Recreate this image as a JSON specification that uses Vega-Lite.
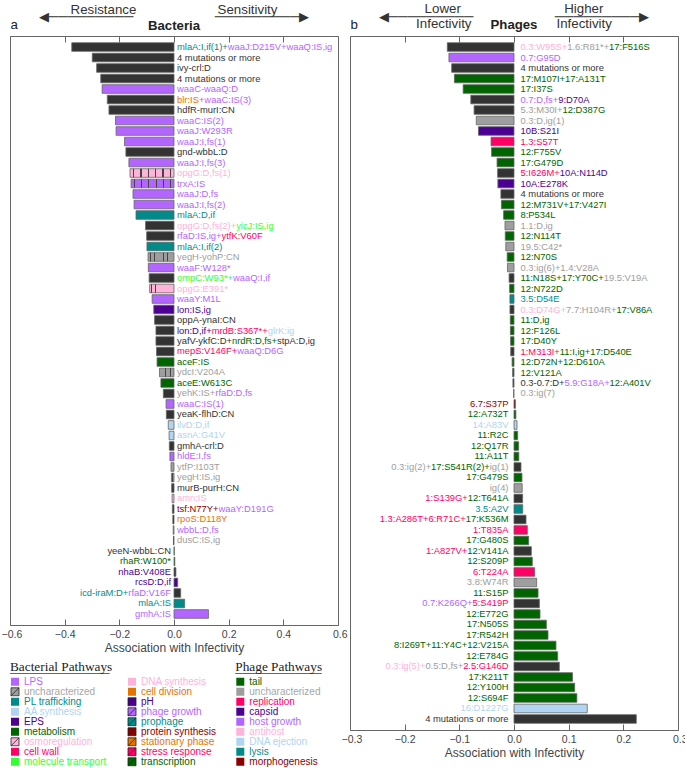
{
  "$schema": "https://vega.github.io/schema/vega-lite/v6.json",
  "background": "white",
  "padding": {"left": 0, "top": 1, "right": 0, "bottom": 0},
  "spacing": 12,
  "bounds": "flush",
  "resolve": {"scale": {"x": "independent", "y": "independent", "color": "independent"}, "legend": {"color": "independent"}},
  "config": {
    "font": "Liberation Sans",
    "view": {"stroke": "#666666", "strokeWidth": 1},
    "axis": {"grid": false},
    "legend": {"symbolSize": 64, "symbolStrokeWidth": 0.8, "labelFontSize": 10, "rowPadding": 0, "clipHeight": 10},
    "style": {"guide-label": {"fontSize": 10}}
  },
  "datasets": {
    "bact": [
      {"r":1,"v":-0.374,"bar":"multi","lab":"mlaA:I,if(1)+waaJ:D215V+waaQ:IS,ig","c":"LPS","o1":"mlaA:I,if(1)+","k1":"PL trafficking"},
      {"r":2,"v":-0.299,"bar":"multi","lab":"4 mutations or more","c":"multi"},
      {"r":3,"v":-0.283,"bar":"multi","lab":"ivy-crl:D","c":"multi"},
      {"r":4,"v":-0.268,"bar":"multi","lab":"4 mutations or more","c":"multi"},
      {"r":5,"v":-0.263,"bar":"LPS","lab":"waaC-waaQ:D","c":"LPS"},
      {"r":6,"v":-0.244,"bar":"multi","lab":"blr:IS+waaC:IS(3)","c":"LPS","o1":"blr:IS+","k1":"cell division"},
      {"r":7,"v":-0.238,"bar":"multi","lab":"hdfR-murI:CN","c":"multi"},
      {"r":8,"v":-0.214,"bar":"LPS","lab":"waaC:IS(2)","c":"LPS"},
      {"r":9,"v":-0.212,"bar":"LPS","lab":"waaJ:W293R","c":"LPS"},
      {"r":10,"v":-0.181,"bar":"LPS","lab":"waaJ:I,fs(1)","c":"LPS"},
      {"r":11,"v":-0.176,"bar":"multi","lab":"gnd-wbbL:D","c":"multi"},
      {"r":12,"v":-0.165,"bar":"LPS","lab":"waaJ:I,fs(3)","c":"LPS"},
      {"r":13,"v":-0.161,"bar":"osmoregulation","lab":"opgG:D,fs(1)","c":"osmoregulation"},
      {"r":14,"v":-0.157,"bar":"phage growth","lab":"trxA:IS","c":"phage growth"},
      {"r":15,"v":-0.150,"bar":"LPS","lab":"waaJ:D,fs","c":"LPS"},
      {"r":16,"v":-0.146,"bar":"LPS","lab":"waaJ:I,fs(2)","c":"LPS"},
      {"r":17,"v":-0.139,"bar":"PL trafficking","lab":"mlaA:D,if","c":"PL trafficking"},
      {"r":18,"v":-0.104,"bar":"multi","lab":"opgG:D,fs(2)+yicJ:IS,ig","c":"molecule transport","o1":"opgG:D,fs(2)+","k1":"osmoregulation"},
      {"r":19,"v":-0.100,"bar":"multi","lab":"rfaD:IS,ig+ytfK:V60F","c":"stress response","o1":"rfaD:IS,ig+","k1":"LPS"},
      {"r":20,"v":-0.099,"bar":"PL trafficking","lab":"mlaA:I,if(2)","c":"PL trafficking"},
      {"r":21,"v":-0.095,"bar":"uncharacterized","lab":"yegH-yohP:CN","c":"uncharacterized"},
      {"r":22,"v":-0.094,"bar":"LPS","lab":"waaF:W128*","c":"LPS"},
      {"r":23,"v":-0.091,"bar":"multi","lab":"ompC:W93*+waaQ:I,if","c":"LPS","o1":"ompC:W93*+","k1":"molecule transport"},
      {"r":24,"v":-0.089,"bar":"osmoregulation","lab":"opgG:E391*","c":"osmoregulation"},
      {"r":25,"v":-0.080,"bar":"LPS","lab":"waaY:M1L","c":"LPS"},
      {"r":26,"v":-0.074,"bar":"EPS","lab":"lon:IS,ig","c":"EPS"},
      {"r":27,"v":-0.071,"bar":"multi","lab":"oppA-ynaI:CN","c":"multi"},
      {"r":28,"v":-0.066,"bar":"multi","lab":"lon:D,if+mrdB:S367*+glrK:ig","c":"AA synthesis","o1":"lon:D,if+mrdB:S367*+","k1":"cell wall","o2":"lon:D,if+","k2":"EPS"},
      {"r":29,"v":-0.066,"bar":"multi","lab":"yafV-ykfC:D+nrdR:D,fs+stpA:D,ig","c":"multi","o1":"yafV-ykfC:D+nrdR:D,fs+","k1":"transcription","o2":"yafV-ykfC:D+","k2":"multi"},
      {"r":30,"v":-0.064,"bar":"multi","lab":"mepS:V146F+waaQ:D6G","c":"LPS","o1":"mepS:V146F+","k1":"cell wall"},
      {"r":31,"v":-0.062,"bar":"metabolism","lab":"aceF:IS","c":"metabolism"},
      {"r":32,"v":-0.053,"bar":"uncharacterized","lab":"ydcI:V204A","c":"uncharacterized"},
      {"r":33,"v":-0.048,"bar":"metabolism","lab":"aceE:W613C","c":"metabolism"},
      {"r":34,"v":-0.039,"bar":"multi","lab":"yehK:IS+rfaD:D,fs","c":"LPS","o1":"yehK:IS+","k1":"uncharacterized"},
      {"r":35,"v":-0.029,"bar":"LPS","lab":"waaC:IS(1)","c":"LPS"},
      {"r":36,"v":-0.028,"bar":"multi","lab":"yeaK-flhD:CN","c":"multi"},
      {"r":37,"v":-0.021,"bar":"AA synthesis","lab":"ilvD:D,if","c":"AA synthesis"},
      {"r":38,"v":-0.018,"bar":"AA synthesis","lab":"asnA:G41V","c":"AA synthesis"},
      {"r":39,"v":-0.017,"bar":"multi","lab":"gmhA-crl:D","c":"multi"},
      {"r":40,"v":-0.015,"bar":"LPS","lab":"hldE:I,fs","c":"LPS"},
      {"r":41,"v":-0.011,"bar":"uncharacterized","lab":"ytfP:I103T","c":"uncharacterized"},
      {"r":42,"v":-0.0095,"bar":"uncharacterized","lab":"yegH:IS,ig","c":"uncharacterized"},
      {"r":43,"v":-0.0085,"bar":"multi","lab":"murB-purH:CN","c":"multi"},
      {"r":44,"v":-0.007,"bar":"DNA synthesis","lab":"amn:IS","c":"DNA synthesis"},
      {"r":45,"v":-0.006,"bar":"multi","lab":"tsf:N77Y+waaY:D191G","c":"LPS","o1":"tsf:N77Y+","k1":"protein synthesis"},
      {"r":46,"v":-0.0045,"bar":"stationary phase","lab":"rpoS:D118Y","c":"stationary phase"},
      {"r":47,"v":-0.003,"bar":"LPS","lab":"wbbL:D,fs","c":"LPS"},
      {"r":48,"v":-0.002,"bar":"uncharacterized","lab":"dusC:IS,ig","c":"uncharacterized"},
      {"r":49,"v":0.001,"bar":"multi","lab":"yeeN-wbbL:CN","c":"multi"},
      {"r":50,"v":0.003,"bar":"transcription","lab":"rhaR:W100*","c":"transcription"},
      {"r":51,"v":0.007,"bar":"pH","lab":"nhaB:V408E","c":"pH"},
      {"r":52,"v":0.0135,"bar":"EPS","lab":"rcsD:D,if","c":"EPS"},
      {"r":53,"v":0.0245,"bar":"multi","lab":"icd-iraM:D+rfaD:V16F","c":"prophage","o1":"rfaD:V16F","k1":"LPS"},
      {"r":54,"v":0.039,"bar":"PL trafficking","lab":"mlaA:IS","c":"PL trafficking"},
      {"r":55,"v":0.126,"bar":"LPS","lab":"gmhA:IS","c":"LPS"}
    ],
    "phage": [
      {"r":1,"v":-0.122,"bar":"multi","lab":"0.3:W95S+1.6:R81*+17:F516S","c":"tail","o1":"0.3:W95S+1.6:R81*+","k1":"uncharacterized","o2":"0.3:W95S+","k2":"antihost"},
      {"r":2,"v":-0.119,"bar":"host growth","lab":"0.7:G95D","c":"host growth"},
      {"r":3,"v":-0.114,"bar":"multi","lab":"4 mutations or more","c":"multi"},
      {"r":4,"v":-0.109,"bar":"tail","lab":"17:M107I+17:A131T","c":"tail"},
      {"r":5,"v":-0.093,"bar":"tail","lab":"17:I37S","c":"tail"},
      {"r":6,"v":-0.079,"bar":"multi","lab":"0.7:D,fs+9:D70A","c":"capsid","o1":"0.7:D,fs+","k1":"host growth"},
      {"r":7,"v":-0.073,"bar":"multi","lab":"5.3:M30I+12:D387G","c":"tail","o1":"5.3:M30I+","k1":"uncharacterized"},
      {"r":8,"v":-0.069,"bar":"uncharacterized","lab":"0.3:D,ig(1)","c":"uncharacterized"},
      {"r":9,"v":-0.065,"bar":"capsid","lab":"10B:S21I","c":"capsid"},
      {"r":10,"v":-0.042,"bar":"replication","lab":"1.3:S57T","c":"replication"},
      {"r":11,"v":-0.041,"bar":"tail","lab":"12:F755V","c":"tail"},
      {"r":12,"v":-0.031,"bar":"tail","lab":"17:G479D","c":"tail"},
      {"r":13,"v":-0.030,"bar":"multi","lab":"5:I626M+10A:N114D","c":"capsid","o1":"5:I626M+","k1":"replication"},
      {"r":14,"v":-0.0295,"bar":"capsid","lab":"10A:E278K","c":"capsid"},
      {"r":15,"v":-0.024,"bar":"multi","lab":"4 mutations or more","c":"multi"},
      {"r":16,"v":-0.023,"bar":"tail","lab":"12:M731V+17:V427I","c":"tail"},
      {"r":17,"v":-0.019,"bar":"tail","lab":"8:P534L","c":"tail"},
      {"r":18,"v":-0.0165,"bar":"uncharacterized","lab":"1.1:D,ig","c":"uncharacterized"},
      {"r":19,"v":-0.016,"bar":"tail","lab":"12:N114T","c":"tail"},
      {"r":20,"v":-0.015,"bar":"uncharacterized","lab":"19.5:C42*","c":"uncharacterized"},
      {"r":21,"v":-0.0125,"bar":"tail","lab":"12:N70S","c":"tail"},
      {"r":22,"v":-0.012,"bar":"uncharacterized","lab":"0.3:ig(6)+1.4:V28A","c":"uncharacterized"},
      {"r":23,"v":-0.009,"bar":"multi","lab":"11:N18S+17:Y70C+19.5:V19A","c":"uncharacterized","o1":"11:N18S+17:Y70C+","k1":"tail"},
      {"r":24,"v":-0.008,"bar":"tail","lab":"12:N722D","c":"tail"},
      {"r":25,"v":-0.0075,"bar":"lysis","lab":"3.5:D54E","c":"lysis"},
      {"r":26,"v":-0.0074,"bar":"multi","lab":"0.3:D74G+7.7:H104R+17:V86A","c":"tail","o1":"0.3:D74G+7.7:H104R+","k1":"uncharacterized","o2":"0.3:D74G+","k2":"antihost"},
      {"r":27,"v":-0.0068,"bar":"tail","lab":"11:D,ig","c":"tail"},
      {"r":28,"v":-0.0066,"bar":"tail","lab":"12:F126L","c":"tail"},
      {"r":29,"v":-0.0062,"bar":"tail","lab":"17:D40Y","c":"tail"},
      {"r":30,"v":-0.006,"bar":"multi","lab":"1:M313I+11:I,ig+17:D540E","c":"tail","o1":"1:M313I+","k1":"replication"},
      {"r":31,"v":-0.0035,"bar":"tail","lab":"12:D72N+12:D610A","c":"tail"},
      {"r":32,"v":-0.0025,"bar":"tail","lab":"12:V121A","c":"tail"},
      {"r":33,"v":-0.002,"bar":"multi","lab":"0.3-0.7:D+5.9:G18A+12:A401V","c":"tail","o1":"0.3-0.7:D+5.9:G18A+","k1":"host growth","o2":"0.3-0.7:D+","k2":"multi"},
      {"r":34,"v":-0.0008,"bar":"uncharacterized","lab":"0.3:ig(7)","c":"uncharacterized"},
      {"r":35,"v":0.0025,"bar":"morphogenesis","lab":"6.7:S37P","c":"morphogenesis"},
      {"r":36,"v":0.0035,"bar":"tail","lab":"12:A732T","c":"tail"},
      {"r":37,"v":0.0055,"bar":"DNA ejection","lab":"14:A83V","c":"DNA ejection"},
      {"r":38,"v":0.0067,"bar":"tail","lab":"11:R2C","c":"tail"},
      {"r":39,"v":0.0085,"bar":"tail","lab":"12:Q17R","c":"tail"},
      {"r":40,"v":0.0088,"bar":"tail","lab":"11:A11T","c":"tail"},
      {"r":41,"v":0.0128,"bar":"multi","lab":"0.3:ig(2)+17:S541R(2)+ig(1)","c":"uncharacterized","o1":"17:S541R(2)+ig(1)","k1":"tail","o2":"ig(1)","k2":"uncharacterized"},
      {"r":42,"v":0.0146,"bar":"tail","lab":"17:G479S","c":"tail"},
      {"r":43,"v":0.015,"bar":"uncharacterized","lab":"ig(4)","c":"uncharacterized"},
      {"r":44,"v":0.0158,"bar":"multi","lab":"1:S139G+12:T641A","c":"replication","o1":"12:T641A","k1":"tail"},
      {"r":45,"v":0.016,"bar":"lysis","lab":"3.5:A2V","c":"lysis"},
      {"r":46,"v":0.022,"bar":"multi","lab":"1.3:A286T+6:R71C+17:K536M","c":"replication","o1":"17:K536M","k1":"tail"},
      {"r":47,"v":0.0244,"bar":"replication","lab":"1:T835A","c":"replication"},
      {"r":48,"v":0.0268,"bar":"tail","lab":"17:G480S","c":"tail"},
      {"r":49,"v":0.0317,"bar":"multi","lab":"1:A827V+12:V141A","c":"replication","o1":"12:V141A","k1":"tail"},
      {"r":50,"v":0.0335,"bar":"tail","lab":"12:S209P","c":"tail"},
      {"r":51,"v":0.0378,"bar":"replication","lab":"6:T224A","c":"replication"},
      {"r":52,"v":0.0415,"bar":"uncharacterized","lab":"3.8:W74R","c":"uncharacterized"},
      {"r":53,"v":0.044,"bar":"tail","lab":"11:S15P","c":"tail"},
      {"r":54,"v":0.0464,"bar":"multi","lab":"0.7:K266Q+5:S419P","c":"host growth","o1":"5:S419P","k1":"replication"},
      {"r":55,"v":0.0476,"bar":"tail","lab":"12:E772G","c":"tail"},
      {"r":56,"v":0.0592,"bar":"tail","lab":"17:N505S","c":"tail"},
      {"r":57,"v":0.0622,"bar":"tail","lab":"17:R542H","c":"tail"},
      {"r":58,"v":0.0768,"bar":"tail","lab":"8:I269T+11:Y4C+12:V215A","c":"tail"},
      {"r":59,"v":0.0799,"bar":"tail","lab":"12:E784G","c":"tail"},
      {"r":60,"v":0.0829,"bar":"multi","lab":"0.3:ig(5)+0.5:D,fs+2.5:G146D","c":"antihost","o1":"0.5:D,fs+2.5:G146D","k1":"uncharacterized","o2":"2.5:G146D","k2":"replication"},
      {"r":61,"v":0.107,"bar":"tail","lab":"17:K211T","c":"tail"},
      {"r":62,"v":0.111,"bar":"tail","lab":"12:Y100H","c":"tail"},
      {"r":63,"v":0.115,"bar":"tail","lab":"12:S694F","c":"tail"},
      {"r":64,"v":0.134,"bar":"DNA ejection","lab":"16:D1227G","c":"DNA ejection"},
      {"r":65,"v":0.2237,"bar":"multi","lab":"4 mutations or more","c":"multi"}
    ]
  },
  "hconcat": [
    {
      "width": 328,
      "height": 589,
      "data": {"name": "bact"},
      "title": {
        "text": ["Resistance\u00a0\u00a0\u00a0\u00a0\u00a0\u00a0\u00a0\u00a0\u00a0\u00a0\u00a0\u00a0\u00a0\u00a0\u00a0\u00a0\u00a0\u00a0\u00a0\u00a0\u00a0\u00a0Sensitivity", "◀─────────\u00a0\u00a0\u00a0\u00a0\u00a0\u00a0\u00a0\u00a0\u00a0\u00a0\u00a0\u00a0\u00a0\u00a0\u00a0\u00a0\u00a0\u00a0\u00a0\u00a0\u00a0\u00a0─────────▶"],
        "subtitle": "Bacteria",
        "frame": "group",
        "anchor": "middle",
        "font": "Liberation Sans",
        "fontSize": 13.3,
        "fontWeight": "normal",
        "color": "#333333",
        "lineHeight": 6.5,
        "subtitleFont": "Liberation Sans",
        "subtitleFontSize": 13.2,
        "subtitleFontWeight": "bold",
        "subtitleColor": "#222222",
        "subtitlePadding": -2.7,
        "offset": -15.3
      },
      "encoding": {
        "y": {"field": "r", "type": "ordinal", "axis": null, "scale": {"paddingInner": 0.18, "paddingOuter": 0.64}}
      },
      "layer": [
        {
          "mark": {"type": "bar", "stroke": "#666666", "strokeWidth": 0.8},
          "encoding": {
            "x": {"field": "v", "type": "quantitative", "scale": {"domain": [-0.6, 0.6], "nice": false},
              "axis": {"orient": "bottom", "values": [-0.6, -0.4, -0.2, 0, 0.2, 0.4, 0.6], "format": ".1f", "domain": false, "tickSize": -6, "tickColor": "#666666", "labelFontSize": 10.5, "labelColor": "#444444", "labelPadding": 10.5, "labelFlush": true, "labelFlushOffset": 9, "title": "Association with Infectivity", "titleFontSize": 12, "titleFontWeight": "normal", "titleColor": "#444444", "titlePadding": 2}},
            "color": {"field": "bar", "type": "nominal",
              "scale": {"domain":["multi","LPS","uncharacterized","PL trafficking","AA synthesis","EPS","metabolism","osmoregulation","cell wall","molecule transport","DNA synthesis","cell division","pH","phage growth","prophage","protein synthesis","stationary phase","stress response","transcription","tail","replication","capsid","host growth","antihost","DNA ejection","lysis","morphogenesis"],"range":["#333333","#b366ff","#9e9e9e","#008b8b","#b0d4f1","#4b0092","#006400","#ffb3d9","#ff0066","#33ff33","#ffb3d9","#e67300","#4b0092","#b366ff","#008b8b","#8b0000","#e67300","#ff0066","#006400","#006400","#ff0066","#4b0092","#b366ff","#ffb3d9","#b0d4f1","#008b8b","#8b0000"]},
              "legend": {
                "title": ["Bacterial Pathways", "_______________"],
                "orient": "none", "legendX": 0, "legendY": 623.5, "direction": "vertical", "columns": 2,
                "values": ["LPS","uncharacterized","PL trafficking","AA synthesis","EPS","metabolism","osmoregulation","cell wall","molecule transport","DNA synthesis","cell division","pH","phage growth","prophage","protein synthesis","stationary phase","stress response","transcription"],
                "symbolType": {"expr": "indexof(['uncharacterized','osmoregulation','pH','phage growth','prophage','protein synthesis','stationary phase','stress response','transcription'],datum.value)>=0?'M-1,-1H1V1H-1ZM-1,1L1,-1':'square'"},
                "symbolStrokeColor": {"expr": "indexof(['uncharacterized','osmoregulation','pH','phage growth','prophage','protein synthesis','stationary phase','stress response','transcription'],datum.value)>=0?'#222222':'transparent'"},
                "symbolStrokeWidth": 0.8, "symbolSize": 64, "symbolOpacity": 1,
                "labelFont": "Liberation Sans", "labelFontSize": 10, "labelOffset": 4,
                "labelColor": {"expr": "indexof(['LPS','phage growth','host growth'],datum.value)>=0?'#b366ff':datum.value=='uncharacterized'?'#a6a6a6':indexof(['PL trafficking','prophage','lysis'],datum.value)>=0?'#008b8b':indexof(['AA synthesis','DNA ejection'],datum.value)>=0?'#b0d4f1':indexof(['EPS','pH','capsid'],datum.value)>=0?'#4b0092':indexof(['metabolism','transcription','tail'],datum.value)>=0?'#006400':indexof(['osmoregulation','DNA synthesis','antihost'],datum.value)>=0?'#ffb3d9':indexof(['cell wall','stress response','replication'],datum.value)>=0?'#ff0066':datum.value=='molecule transport'?'#33ff33':indexof(['cell division','stationary phase'],datum.value)>=0?'#e67300':'#8b0000'"},
                "titleFont": "Liberation Serif", "titleFontSize": 13.3, "titleFontWeight": "normal", "titleColor": "#222222", "titleLineHeight": 1, "titlePadding": 3,
                "clipHeight": 10, "rowPadding": 0, "columnPadding": 20, "padding": 0
              }}
          }
        },
        {
          "transform": [{"filter": "indexof(['osmoregulation','uncharacterized','phage growth','stationary phase','transcription','pH','prophage','protein synthesis','stress response'], datum.bar) >= 0"}],
          "mark": {"type": "bar", "stroke": null, "fill": {"gradient": "linear", "x1": 0, "y1": 0, "x2": 1, "y2": 0, "stops": [
            {"offset": 0, "color": "rgba(50,50,50,0)"},
            {"offset": 0.07, "color": "rgba(50,50,50,0)"}, {"offset": 0.07, "color": "#444444"}, {"offset": 0.095, "color": "#444444"}, {"offset": 0.095, "color": "rgba(50,50,50,0)"},
            {"offset": 0.237, "color": "rgba(50,50,50,0)"}, {"offset": 0.237, "color": "#444444"}, {"offset": 0.262, "color": "#444444"}, {"offset": 0.262, "color": "rgba(50,50,50,0)"},
            {"offset": 0.404, "color": "rgba(50,50,50,0)"}, {"offset": 0.404, "color": "#444444"}, {"offset": 0.429, "color": "#444444"}, {"offset": 0.429, "color": "rgba(50,50,50,0)"},
            {"offset": 0.571, "color": "rgba(50,50,50,0)"}, {"offset": 0.571, "color": "#444444"}, {"offset": 0.596, "color": "#444444"}, {"offset": 0.596, "color": "rgba(50,50,50,0)"},
            {"offset": 0.738, "color": "rgba(50,50,50,0)"}, {"offset": 0.738, "color": "#444444"}, {"offset": 0.763, "color": "#444444"}, {"offset": 0.763, "color": "rgba(50,50,50,0)"},
            {"offset": 0.904, "color": "rgba(50,50,50,0)"}, {"offset": 0.904, "color": "#444444"}, {"offset": 0.929, "color": "#444444"}, {"offset": 0.929, "color": "rgba(50,50,50,0)"},
            {"offset": 1, "color": "rgba(50,50,50,0)"}]}},
          "encoding": {
            "x": {"field": "v", "type": "quantitative", "scale": {"domain": [-0.6, 0.6], "nice": false}, "axis": null}
          }
        },
        {
          "mark": {"type": "rule", "color": "#333333", "strokeWidth": 1},
          "encoding": {
            "x": {"datum": 0, "type": "quantitative", "scale": {"domain": [-0.6, 0.6], "nice": false},
              "axis": {"orient": "top", "values": [-0.6, -0.4, -0.2, 0, 0.2, 0.4, 0.6], "labels": false, "domain": false, "tickSize": -6, "tickColor": "#666666", "title": "a", "titleAnchor": "start", "titleFontSize": 13.3, "titleFontWeight": "normal", "titleColor": "#222222", "titlePadding": 4.2}}
          }
        },
        {
          "transform": [{"filter": "datum.v < 0"}],
          "mark": {"type": "text", "align": "left", "baseline": "middle", "dx": 3, "fontSize": 9.4, "font": "Liberation Sans"},
          "encoding": {
            "x": {"datum": 0, "type": "quantitative", "scale": {"domain": [-0.6, 0.6], "nice": false}, "axis": null},
            "text": {"field": "lab"},
            "color": {"field": "c", "type": "nominal", "legend": null, "scale": {"domain":["multi","LPS","uncharacterized","PL trafficking","AA synthesis","EPS","metabolism","osmoregulation","cell wall","molecule transport","DNA synthesis","cell division","pH","phage growth","prophage","protein synthesis","stationary phase","stress response","transcription","tail","replication","capsid","host growth","antihost","DNA ejection","lysis","morphogenesis"],"range":["#333333","#b366ff","#9e9e9e","#008b8b","#b0d4f1","#4b0092","#006400","#ffb3d9","#ff0066","#33ff33","#ffb3d9","#e67300","#4b0092","#b366ff","#008b8b","#8b0000","#e67300","#ff0066","#006400","#006400","#ff0066","#4b0092","#b366ff","#ffb3d9","#b0d4f1","#008b8b","#8b0000"]}}
          }
        },
        {
          "transform": [{"filter": "datum.v < 0 && isValid(datum.o1)"}],
          "mark": {"type": "text", "align": "left", "baseline": "middle", "dx": 3, "fontSize": 9.4, "font": "Liberation Sans", "fill": "white", "stroke": "white", "strokeWidth": 1.3},
          "encoding": {
            "x": {"datum": 0, "type": "quantitative", "scale": {"domain": [-0.6, 0.6], "nice": false}, "axis": null},
            "text": {"field": "o1"}
          }
        },
        {
          "transform": [{"filter": "datum.v < 0 && isValid(datum.o1)"}],
          "mark": {"type": "text", "align": "left", "baseline": "middle", "dx": 3, "fontSize": 9.4, "font": "Liberation Sans"},
          "encoding": {
            "x": {"datum": 0, "type": "quantitative", "scale": {"domain": [-0.6, 0.6], "nice": false}, "axis": null},
            "text": {"field": "o1"},
            "color": {"field": "k1", "type": "nominal", "legend": null, "scale": {"domain":["multi","LPS","uncharacterized","PL trafficking","AA synthesis","EPS","metabolism","osmoregulation","cell wall","molecule transport","DNA synthesis","cell division","pH","phage growth","prophage","protein synthesis","stationary phase","stress response","transcription","tail","replication","capsid","host growth","antihost","DNA ejection","lysis","morphogenesis"],"range":["#333333","#b366ff","#9e9e9e","#008b8b","#b0d4f1","#4b0092","#006400","#ffb3d9","#ff0066","#33ff33","#ffb3d9","#e67300","#4b0092","#b366ff","#008b8b","#8b0000","#e67300","#ff0066","#006400","#006400","#ff0066","#4b0092","#b366ff","#ffb3d9","#b0d4f1","#008b8b","#8b0000"]}}
          }
        },
        {
          "transform": [{"filter": "datum.v < 0 && isValid(datum.o2)"}],
          "mark": {"type": "text", "align": "left", "baseline": "middle", "dx": 3, "fontSize": 9.4, "font": "Liberation Sans", "fill": "white", "stroke": "white", "strokeWidth": 1.3},
          "encoding": {
            "x": {"datum": 0, "type": "quantitative", "scale": {"domain": [-0.6, 0.6], "nice": false}, "axis": null},
            "text": {"field": "o2"}
          }
        },
        {
          "transform": [{"filter": "datum.v < 0 && isValid(datum.o2)"}],
          "mark": {"type": "text", "align": "left", "baseline": "middle", "dx": 3, "fontSize": 9.4, "font": "Liberation Sans"},
          "encoding": {
            "x": {"datum": 0, "type": "quantitative", "scale": {"domain": [-0.6, 0.6], "nice": false}, "axis": null},
            "text": {"field": "o2"},
            "color": {"field": "k2", "type": "nominal", "legend": null, "scale": {"domain":["multi","LPS","uncharacterized","PL trafficking","AA synthesis","EPS","metabolism","osmoregulation","cell wall","molecule transport","DNA synthesis","cell division","pH","phage growth","prophage","protein synthesis","stationary phase","stress response","transcription","tail","replication","capsid","host growth","antihost","DNA ejection","lysis","morphogenesis"],"range":["#333333","#b366ff","#9e9e9e","#008b8b","#b0d4f1","#4b0092","#006400","#ffb3d9","#ff0066","#33ff33","#ffb3d9","#e67300","#4b0092","#b366ff","#008b8b","#8b0000","#e67300","#ff0066","#006400","#006400","#ff0066","#4b0092","#b366ff","#ffb3d9","#b0d4f1","#008b8b","#8b0000"]}}
          }
        },
        {
          "transform": [{"filter": "datum.v > 0"}],
          "mark": {"type": "text", "align": "right", "baseline": "middle", "dx": -3, "fontSize": 9.4, "font": "Liberation Sans"},
          "encoding": {
            "x": {"datum": 0, "type": "quantitative", "scale": {"domain": [-0.6, 0.6], "nice": false}, "axis": null},
            "text": {"field": "lab"},
            "color": {"field": "c", "type": "nominal", "legend": null, "scale": {"domain":["multi","LPS","uncharacterized","PL trafficking","AA synthesis","EPS","metabolism","osmoregulation","cell wall","molecule transport","DNA synthesis","cell division","pH","phage growth","prophage","protein synthesis","stationary phase","stress response","transcription","tail","replication","capsid","host growth","antihost","DNA ejection","lysis","morphogenesis"],"range":["#333333","#b366ff","#9e9e9e","#008b8b","#b0d4f1","#4b0092","#006400","#ffb3d9","#ff0066","#33ff33","#ffb3d9","#e67300","#4b0092","#b366ff","#008b8b","#8b0000","#e67300","#ff0066","#006400","#006400","#ff0066","#4b0092","#b366ff","#ffb3d9","#b0d4f1","#008b8b","#8b0000"]}}
          }
        },
        {
          "transform": [{"filter": "datum.v > 0 && isValid(datum.o1)"}],
          "mark": {"type": "text", "align": "right", "baseline": "middle", "dx": -3, "fontSize": 9.4, "font": "Liberation Sans", "fill": "white", "stroke": "white", "strokeWidth": 1.3},
          "encoding": {
            "x": {"datum": 0, "type": "quantitative", "scale": {"domain": [-0.6, 0.6], "nice": false}, "axis": null},
            "text": {"field": "o1"}
          }
        },
        {
          "transform": [{"filter": "datum.v > 0 && isValid(datum.o1)"}],
          "mark": {"type": "text", "align": "right", "baseline": "middle", "dx": -3, "fontSize": 9.4, "font": "Liberation Sans"},
          "encoding": {
            "x": {"datum": 0, "type": "quantitative", "scale": {"domain": [-0.6, 0.6], "nice": false}, "axis": null},
            "text": {"field": "o1"},
            "color": {"field": "k1", "type": "nominal", "legend": null, "scale": {"domain":["multi","LPS","uncharacterized","PL trafficking","AA synthesis","EPS","metabolism","osmoregulation","cell wall","molecule transport","DNA synthesis","cell division","pH","phage growth","prophage","protein synthesis","stationary phase","stress response","transcription","tail","replication","capsid","host growth","antihost","DNA ejection","lysis","morphogenesis"],"range":["#333333","#b366ff","#9e9e9e","#008b8b","#b0d4f1","#4b0092","#006400","#ffb3d9","#ff0066","#33ff33","#ffb3d9","#e67300","#4b0092","#b366ff","#008b8b","#8b0000","#e67300","#ff0066","#006400","#006400","#ff0066","#4b0092","#b366ff","#ffb3d9","#b0d4f1","#008b8b","#8b0000"]}}
          }
        }
      ],
      "resolve": {"axis": {"x": "independent"}}
    },
    {
      "width": 328,
      "height": 694,
      "data": {"name": "phage"},
      "title": {
        "text": ["Lower\u00a0\u00a0\u00a0\u00a0\u00a0\u00a0\u00a0\u00a0\u00a0\u00a0\u00a0\u00a0\u00a0\u00a0\u00a0\u00a0\u00a0\u00a0\u00a0\u00a0\u00a0\u00a0\u00a0\u00a0\u00a0\u00a0\u00a0\u00a0Higher", "◀─────────\u00a0\u00a0\u00a0\u00a0\u00a0\u00a0\u00a0\u00a0\u00a0\u00a0\u00a0\u00a0\u00a0\u00a0\u00a0\u00a0\u00a0\u00a0\u00a0\u00a0\u00a0\u00a0─────────▶", "Infectivity\u00a0\u00a0\u00a0\u00a0\u00a0\u00a0\u00a0\u00a0\u00a0\u00a0\u00a0\u00a0\u00a0\u00a0\u00a0\u00a0\u00a0\u00a0\u00a0\u00a0\u00a0\u00a0\u00a0Infectivity"],
        "subtitle": "Phages",
        "frame": "group",
        "anchor": "middle",
        "font": "Liberation Sans",
        "fontSize": 13.3,
        "fontWeight": "normal",
        "color": "#333333",
        "lineHeight": 7.5,
        "subtitleFont": "Liberation Sans",
        "subtitleFontSize": 13.2,
        "subtitleFontWeight": "bold",
        "subtitleColor": "#222222",
        "subtitlePadding": -11.7,
        "offset": -13.8
      },
      "encoding": {
        "y": {"field": "r", "type": "ordinal", "axis": null, "scale": {"paddingInner": 0.18, "paddingOuter": 0.64}}
      },
      "layer": [
        {
          "mark": {"type": "bar", "stroke": "#666666", "strokeWidth": 0.8},
          "encoding": {
            "x": {"field": "v", "type": "quantitative", "scale": {"domain": [-0.3, 0.3], "nice": false},
              "axis": {"orient": "bottom", "values": [-0.3, -0.2, -0.1, 0, 0.1, 0.2, 0.3], "format": ".1f", "domain": false, "tickSize": -6, "tickColor": "#666666", "labelFontSize": 10.5, "labelColor": "#444444", "labelPadding": 10.5, "labelFlush": true, "labelFlushOffset": 9, "title": "Association with Infectivity", "titleFontSize": 12, "titleFontWeight": "normal", "titleColor": "#444444", "titlePadding": 2}},
            "color": {"field": "bar", "type": "nominal",
              "scale": {"domain":["multi","LPS","uncharacterized","PL trafficking","AA synthesis","EPS","metabolism","osmoregulation","cell wall","molecule transport","DNA synthesis","cell division","pH","phage growth","prophage","protein synthesis","stationary phase","stress response","transcription","tail","replication","capsid","host growth","antihost","DNA ejection","lysis","morphogenesis"],"range":["#333333","#b366ff","#9e9e9e","#008b8b","#b0d4f1","#4b0092","#006400","#ffb3d9","#ff0066","#33ff33","#ffb3d9","#e67300","#4b0092","#b366ff","#008b8b","#8b0000","#e67300","#ff0066","#006400","#006400","#ff0066","#4b0092","#b366ff","#ffb3d9","#b0d4f1","#008b8b","#8b0000"]},
              "legend": {
                "title": ["Phage Pathways", "_____________"],
                "orient": "none", "legendX": -114.7, "legendY": 623.5, "direction": "vertical", "columns": 1,
                "values": ["tail","uncharacterized","replication","capsid","host growth","antihost","DNA ejection","lysis","morphogenesis"],
                "symbolType": "square", "symbolStrokeColor": "transparent", "symbolStrokeWidth": 0.8, "symbolSize": 64, "symbolOpacity": 1,
                "labelFont": "Liberation Sans", "labelFontSize": 10, "labelOffset": 4,
                "labelColor": {"expr": "indexof(['LPS','phage growth','host growth'],datum.value)>=0?'#b366ff':datum.value=='uncharacterized'?'#a6a6a6':indexof(['PL trafficking','prophage','lysis'],datum.value)>=0?'#008b8b':indexof(['AA synthesis','DNA ejection'],datum.value)>=0?'#b0d4f1':indexof(['EPS','pH','capsid'],datum.value)>=0?'#4b0092':indexof(['metabolism','transcription','tail'],datum.value)>=0?'#006400':indexof(['osmoregulation','DNA synthesis','antihost'],datum.value)>=0?'#ffb3d9':indexof(['cell wall','stress response','replication'],datum.value)>=0?'#ff0066':datum.value=='molecule transport'?'#33ff33':indexof(['cell division','stationary phase'],datum.value)>=0?'#e67300':'#8b0000'"},
                "titleFont": "Liberation Serif", "titleFontSize": 13.3, "titleFontWeight": "normal", "titleColor": "#222222", "titleLineHeight": 1, "titlePadding": 3,
                "clipHeight": 10, "rowPadding": 0, "padding": 0
              }}
          }
        },
        {
          "mark": {"type": "rule", "color": "#333333", "strokeWidth": 1},
          "encoding": {
            "x": {"datum": 0, "type": "quantitative", "scale": {"domain": [-0.3, 0.3], "nice": false},
              "axis": {"orient": "top", "values": [-0.3, -0.2, -0.1, 0, 0.1, 0.2, 0.3], "labels": false, "domain": false, "tickSize": -6, "tickColor": "#666666", "title": "b", "titleAnchor": "start", "titleFontSize": 13.3, "titleFontWeight": "normal", "titleColor": "#222222", "titlePadding": 4.2}}
          }
        },
        {
          "transform": [{"filter": "datum.v < 0"}],
          "mark": {"type": "text", "align": "left", "baseline": "middle", "dx": 6.5, "fontSize": 9.4, "font": "Liberation Sans"},
          "encoding": {
            "x": {"datum": 0, "type": "quantitative", "scale": {"domain": [-0.3, 0.3], "nice": false}, "axis": null},
            "text": {"field": "lab"},
            "color": {"field": "c", "type": "nominal", "legend": null, "scale": {"domain":["multi","LPS","uncharacterized","PL trafficking","AA synthesis","EPS","metabolism","osmoregulation","cell wall","molecule transport","DNA synthesis","cell division","pH","phage growth","prophage","protein synthesis","stationary phase","stress response","transcription","tail","replication","capsid","host growth","antihost","DNA ejection","lysis","morphogenesis"],"range":["#333333","#b366ff","#9e9e9e","#008b8b","#b0d4f1","#4b0092","#006400","#ffb3d9","#ff0066","#33ff33","#ffb3d9","#e67300","#4b0092","#b366ff","#008b8b","#8b0000","#e67300","#ff0066","#006400","#006400","#ff0066","#4b0092","#b366ff","#ffb3d9","#b0d4f1","#008b8b","#8b0000"]}}
          }
        },
        {
          "transform": [{"filter": "datum.v < 0 && isValid(datum.o1)"}],
          "mark": {"type": "text", "align": "left", "baseline": "middle", "dx": 6.5, "fontSize": 9.4, "font": "Liberation Sans", "fill": "white", "stroke": "white", "strokeWidth": 1.3},
          "encoding": {
            "x": {"datum": 0, "type": "quantitative", "scale": {"domain": [-0.3, 0.3], "nice": false}, "axis": null},
            "text": {"field": "o1"}
          }
        },
        {
          "transform": [{"filter": "datum.v < 0 && isValid(datum.o1)"}],
          "mark": {"type": "text", "align": "left", "baseline": "middle", "dx": 6.5, "fontSize": 9.4, "font": "Liberation Sans"},
          "encoding": {
            "x": {"datum": 0, "type": "quantitative", "scale": {"domain": [-0.3, 0.3], "nice": false}, "axis": null},
            "text": {"field": "o1"},
            "color": {"field": "k1", "type": "nominal", "legend": null, "scale": {"domain":["multi","LPS","uncharacterized","PL trafficking","AA synthesis","EPS","metabolism","osmoregulation","cell wall","molecule transport","DNA synthesis","cell division","pH","phage growth","prophage","protein synthesis","stationary phase","stress response","transcription","tail","replication","capsid","host growth","antihost","DNA ejection","lysis","morphogenesis"],"range":["#333333","#b366ff","#9e9e9e","#008b8b","#b0d4f1","#4b0092","#006400","#ffb3d9","#ff0066","#33ff33","#ffb3d9","#e67300","#4b0092","#b366ff","#008b8b","#8b0000","#e67300","#ff0066","#006400","#006400","#ff0066","#4b0092","#b366ff","#ffb3d9","#b0d4f1","#008b8b","#8b0000"]}}
          }
        },
        {
          "transform": [{"filter": "datum.v < 0 && isValid(datum.o2)"}],
          "mark": {"type": "text", "align": "left", "baseline": "middle", "dx": 6.5, "fontSize": 9.4, "font": "Liberation Sans", "fill": "white", "stroke": "white", "strokeWidth": 1.3},
          "encoding": {
            "x": {"datum": 0, "type": "quantitative", "scale": {"domain": [-0.3, 0.3], "nice": false}, "axis": null},
            "text": {"field": "o2"}
          }
        },
        {
          "transform": [{"filter": "datum.v < 0 && isValid(datum.o2)"}],
          "mark": {"type": "text", "align": "left", "baseline": "middle", "dx": 6.5, "fontSize": 9.4, "font": "Liberation Sans"},
          "encoding": {
            "x": {"datum": 0, "type": "quantitative", "scale": {"domain": [-0.3, 0.3], "nice": false}, "axis": null},
            "text": {"field": "o2"},
            "color": {"field": "k2", "type": "nominal", "legend": null, "scale": {"domain":["multi","LPS","uncharacterized","PL trafficking","AA synthesis","EPS","metabolism","osmoregulation","cell wall","molecule transport","DNA synthesis","cell division","pH","phage growth","prophage","protein synthesis","stationary phase","stress response","transcription","tail","replication","capsid","host growth","antihost","DNA ejection","lysis","morphogenesis"],"range":["#333333","#b366ff","#9e9e9e","#008b8b","#b0d4f1","#4b0092","#006400","#ffb3d9","#ff0066","#33ff33","#ffb3d9","#e67300","#4b0092","#b366ff","#008b8b","#8b0000","#e67300","#ff0066","#006400","#006400","#ff0066","#4b0092","#b366ff","#ffb3d9","#b0d4f1","#008b8b","#8b0000"]}}
          }
        },
        {
          "transform": [{"filter": "datum.v > 0"}],
          "mark": {"type": "text", "align": "right", "baseline": "middle", "dx": -5.5, "fontSize": 9.4, "font": "Liberation Sans"},
          "encoding": {
            "x": {"datum": 0, "type": "quantitative", "scale": {"domain": [-0.3, 0.3], "nice": false}, "axis": null},
            "text": {"field": "lab"},
            "color": {"field": "c", "type": "nominal", "legend": null, "scale": {"domain":["multi","LPS","uncharacterized","PL trafficking","AA synthesis","EPS","metabolism","osmoregulation","cell wall","molecule transport","DNA synthesis","cell division","pH","phage growth","prophage","protein synthesis","stationary phase","stress response","transcription","tail","replication","capsid","host growth","antihost","DNA ejection","lysis","morphogenesis"],"range":["#333333","#b366ff","#9e9e9e","#008b8b","#b0d4f1","#4b0092","#006400","#ffb3d9","#ff0066","#33ff33","#ffb3d9","#e67300","#4b0092","#b366ff","#008b8b","#8b0000","#e67300","#ff0066","#006400","#006400","#ff0066","#4b0092","#b366ff","#ffb3d9","#b0d4f1","#008b8b","#8b0000"]}}
          }
        },
        {
          "transform": [{"filter": "datum.v > 0 && isValid(datum.o1)"}],
          "mark": {"type": "text", "align": "right", "baseline": "middle", "dx": -5.5, "fontSize": 9.4, "font": "Liberation Sans", "fill": "white", "stroke": "white", "strokeWidth": 1.3},
          "encoding": {
            "x": {"datum": 0, "type": "quantitative", "scale": {"domain": [-0.3, 0.3], "nice": false}, "axis": null},
            "text": {"field": "o1"}
          }
        },
        {
          "transform": [{"filter": "datum.v > 0 && isValid(datum.o1)"}],
          "mark": {"type": "text", "align": "right", "baseline": "middle", "dx": -5.5, "fontSize": 9.4, "font": "Liberation Sans"},
          "encoding": {
            "x": {"datum": 0, "type": "quantitative", "scale": {"domain": [-0.3, 0.3], "nice": false}, "axis": null},
            "text": {"field": "o1"},
            "color": {"field": "k1", "type": "nominal", "legend": null, "scale": {"domain":["multi","LPS","uncharacterized","PL trafficking","AA synthesis","EPS","metabolism","osmoregulation","cell wall","molecule transport","DNA synthesis","cell division","pH","phage growth","prophage","protein synthesis","stationary phase","stress response","transcription","tail","replication","capsid","host growth","antihost","DNA ejection","lysis","morphogenesis"],"range":["#333333","#b366ff","#9e9e9e","#008b8b","#b0d4f1","#4b0092","#006400","#ffb3d9","#ff0066","#33ff33","#ffb3d9","#e67300","#4b0092","#b366ff","#008b8b","#8b0000","#e67300","#ff0066","#006400","#006400","#ff0066","#4b0092","#b366ff","#ffb3d9","#b0d4f1","#008b8b","#8b0000"]}}
          }
        },
        {
          "transform": [{"filter": "datum.v > 0 && isValid(datum.o2)"}],
          "mark": {"type": "text", "align": "right", "baseline": "middle", "dx": -5.5, "fontSize": 9.4, "font": "Liberation Sans", "fill": "white", "stroke": "white", "strokeWidth": 1.3},
          "encoding": {
            "x": {"datum": 0, "type": "quantitative", "scale": {"domain": [-0.3, 0.3], "nice": false}, "axis": null},
            "text": {"field": "o2"}
          }
        },
        {
          "transform": [{"filter": "datum.v > 0 && isValid(datum.o2)"}],
          "mark": {"type": "text", "align": "right", "baseline": "middle", "dx": -5.5, "fontSize": 9.4, "font": "Liberation Sans"},
          "encoding": {
            "x": {"datum": 0, "type": "quantitative", "scale": {"domain": [-0.3, 0.3], "nice": false}, "axis": null},
            "text": {"field": "o2"},
            "color": {"field": "k2", "type": "nominal", "legend": null, "scale": {"domain":["multi","LPS","uncharacterized","PL trafficking","AA synthesis","EPS","metabolism","osmoregulation","cell wall","molecule transport","DNA synthesis","cell division","pH","phage growth","prophage","protein synthesis","stationary phase","stress response","transcription","tail","replication","capsid","host growth","antihost","DNA ejection","lysis","morphogenesis"],"range":["#333333","#b366ff","#9e9e9e","#008b8b","#b0d4f1","#4b0092","#006400","#ffb3d9","#ff0066","#33ff33","#ffb3d9","#e67300","#4b0092","#b366ff","#008b8b","#8b0000","#e67300","#ff0066","#006400","#006400","#ff0066","#4b0092","#b366ff","#ffb3d9","#b0d4f1","#008b8b","#8b0000"]}}
          }
        }
      ],
      "resolve": {"axis": {"x": "independent"}}
    }
  ]
}
